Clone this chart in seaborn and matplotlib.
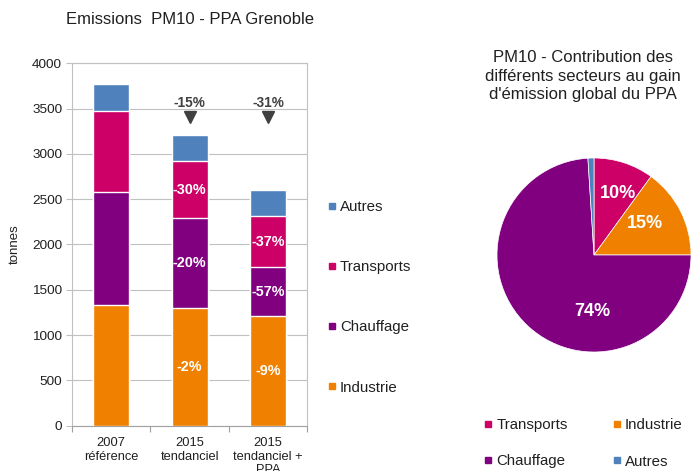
import matplotlib
matplotlib.use("Agg")
import matplotlib.pyplot as plt
from matplotlib.lines import Line2D
import pandas as pd
import seaborn as sns

# PM10 emissions (tonnes) by sector and scenario
scenarios = ["2007\nréférence", "2015\ntendanciel", "2015\ntendanciel +\nPPA"]
industrie = [1330, 1300, 1210]
chauffage = [1245, 990, 540]
transports = [895, 630, 560]
autres = [298, 292, 290]

# Share of each sector in the overall PPA emission gain (%)
pie_sectors = ["Transports", "Industrie", "Chauffage", "Autres"]
pie_shares = [10, 15, 74, 1]

colors = {
    "Autres": "#4F81BD",
    "Transports": "#CC0066",
    "Chauffage": "#800080",
    "Industrie": "#F08000",
}
grid_grey = "#C0C0C0"
dark = "#404040"

sns.set_theme(style="white")
plt.rcParams["font.family"] = ["Liberation Sans", "DejaVu Sans"]

fig = plt.figure(figsize=(6.96, 4.71), dpi=100)

# ---------------- stacked bars ----------------
ax = fig.add_axes([0.1034, 0.0962, 0.3384, 0.7694])

df = pd.DataFrame({
    "scenario": scenarios,
    "Industrie": industrie,
    "Chauffage": chauffage,
    "Transports": transports,
    "Autres": autres,
})
stack = ["Industrie", "Chauffage", "Transports", "Autres"]
cum = df[stack].cumsum(axis=1)

# draw cumulative totals from the top segment down so each layer covers the next
for sector in reversed(stack):
    sns.barplot(x=df["scenario"], y=cum[sector], color=colors[sector],
                saturation=1, width=0.46, edgecolor="white", linewidth=1,
                ax=ax, zorder=3)

# change of each sector relative to the 2007 reference
for i in (1, 2):
    for sector in ["Industrie", "Chauffage", "Transports"]:
        val = df.loc[i, sector]
        ref = df.loc[0, sector]
        pct = round(100 * (val / ref - 1))
        ax.text(i, cum.loc[i, sector] - val / 2, f"{pct}%", ha="center",
                va="center", color="white", fontsize=10.4, fontweight="bold",
                zorder=5)

# change of the total relative to the reference
totals = cum["Autres"]
for i in (1, 2):
    pct = round(100 * (totals[i] / totals[0] - 1))
    ax.text(i, 3565, f"{pct}%", ha="center", va="center", color=dark,
            fontsize=9.8, fontweight="bold", zorder=5)
    ax.plot(i, 3405, marker="v", color=dark, markersize=8, linestyle="",
            zorder=5)

ax.set_xlim(-0.5, 2.5)
ax.set_ylim(0, 4000)
ax.set_yticks(range(0, 4001, 500))
ax.yaxis.grid(True, color=grid_grey, linewidth=0.8, zorder=0)
ax.set_axisbelow(True)
for side in ["left", "right", "top"]:
    ax.spines[side].set_color(grid_grey)
    ax.spines[side].set_linewidth(0.8)
ax.spines["bottom"].set_color("#A0A0A0")
ax.spines["bottom"].set_linewidth(0.8)

ax.set_xticks([-0.5, 0.5, 1.5, 2.5], minor=True)
ax.tick_params(axis="x", which="major", length=0, pad=8, labelsize=9.3,
               colors="#202020")
ax.tick_params(axis="x", which="minor", length=4, width=0.8, color="#A0A0A0",
               direction="out", bottom=True)
ax.tick_params(axis="y", length=4, width=0.8, color=grid_grey, left=True,
               direction="out", labelsize=9.7, labelcolor="#202020", pad=3)
ax.set_xlabel("")
ax.set_ylabel("tonnes", fontsize=9.5, color="#202020", labelpad=8)

fig.text(190 / 696, 1 - 19 / 471, "Emissions  PM10 - PPA Grenoble",
         ha="center", va="center", fontsize=12, color="#202020")

bar_handles = [Line2D([], [], marker="s", linestyle="", markersize=5,
                      color=colors[s], label=s)
               for s in ["Autres", "Transports", "Chauffage", "Industrie"]]
fig.legend(handles=bar_handles, loc="upper left",
           bbox_to_anchor=(328 / 696, 1 - 200 / 471), frameon=False,
           fontsize=10.8, handlelength=0.5, handletextpad=0.3,
           labelspacing=3.08, borderpad=0, borderaxespad=0,
           labelcolor="#202020")

# ---------------- pie ----------------
ax2 = fig.add_axes([497 / 696, 1 - 352 / 471, 194 / 696, 194 / 471])
wedges, _, autotexts = ax2.pie(
    pie_shares,
    colors=[colors[s] for s in pie_sectors],
    startangle=90,
    counterclock=False,
    autopct=lambda p: f"{p:.0f}%" if p >= 5 else "",
    pctdistance=0.65,
    wedgeprops=dict(edgecolor="white", linewidth=0.5),
    textprops=dict(color="white", fontweight="bold", fontsize=13),
)
label_pos = [(0.244, 0.636), (0.526, 0.32), (-0.02, -0.585)]
for txt, pos in zip(autotexts[:3], label_pos):
    txt.set_position(pos)
ax2.set_xlim(-1, 1)
ax2.set_ylim(-1, 1)
ax2.set_aspect("equal")

fig.text(583 / 696, 1 - 76 / 471,
         "PM10 - Contribution des\ndifférents secteurs au gain\nd'émission global du PPA",
         ha="center", va="center", fontsize=12, color="#202020",
         linespacing=1.28)

pie_handles = [Line2D([], [], marker="s", linestyle="", markersize=5,
                      color=colors[s], label=s)
               for s in ["Transports", "Chauffage", "Industrie", "Autres"]]
fig.legend(handles=pie_handles, loc="upper left", ncol=2,
           bbox_to_anchor=(484.5 / 696, 1 - 418 / 471), frameon=False,
           fontsize=10.8, handlelength=0.5, handletextpad=0.3,
           labelspacing=1.5, columnspacing=3.0, borderpad=0,
           borderaxespad=0, labelcolor="#202020")

fig.savefig("out.png", dpi=100)
